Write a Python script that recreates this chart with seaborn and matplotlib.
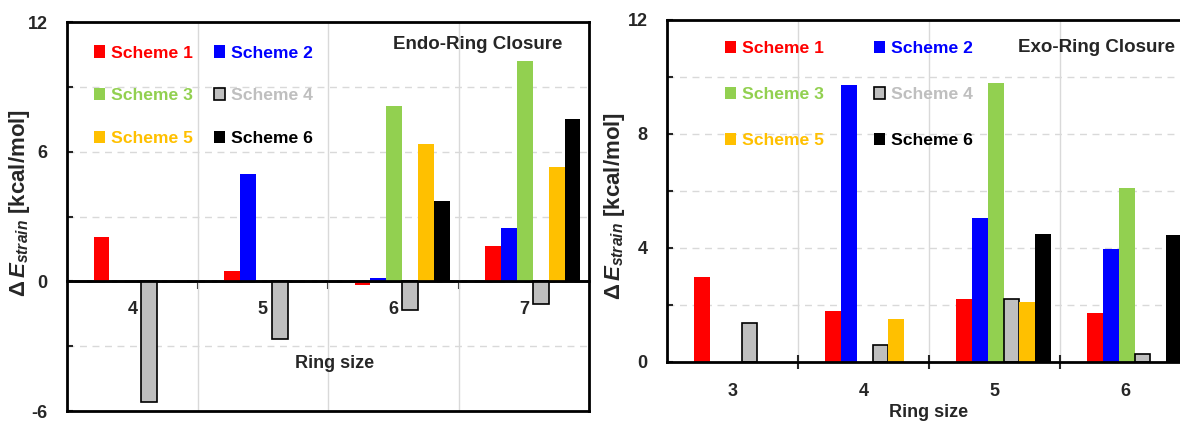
import numpy as np
import pandas as pd
import seaborn as sns
import matplotlib.pyplot as plt
from matplotlib.ticker import MultipleLocator, FixedLocator

schemes = ["Scheme 1", "Scheme 2", "Scheme 3", "Scheme 4", "Scheme 5", "Scheme 6"]
colors = ["#FF0000", "#0000FF", "#92D050", "#BFBFBF", "#FFC000", "#000000"]

# endo-ring closure, ring sizes 4-7 (nan = no bar)
endo_rings = ["4", "5", "6", "7"]
endo_s1 = [2.05, 0.48, -0.15, 1.62]
endo_s2 = [np.nan, 4.98, 0.15, 2.45]
endo_s3 = [np.nan, np.nan, 8.09, 10.2]
endo_s4 = [-5.59, -2.67, -1.34, -1.05]
endo_s5 = [np.nan, np.nan, 6.36, 5.29]
endo_s6 = [np.nan, np.nan, 3.70, 7.53]

# exo-ring closure, ring sizes 3-6
exo_rings = ["3", "4", "5", "6"]
exo_s1 = [2.97, 1.78, 2.20, 1.73]
exo_s2 = [np.nan, 9.72, 5.06, 3.98]
exo_s3 = [np.nan, np.nan, 9.78, 6.10]
exo_s4 = [1.38, 0.60, 2.21, 0.27]
exo_s5 = [np.nan, 1.50, 2.10, np.nan]
exo_s6 = [np.nan, np.nan, 4.50, 4.44]


def to_long(rings, cols):
    d = pd.DataFrame({s: v for s, v in zip(schemes, cols)})
    d["ring"] = rings
    d = d.melt(id_vars="ring", var_name="scheme", value_name="dE")
    return d.dropna()


d_endo = to_long(endo_rings, [endo_s1, endo_s2, endo_s3, endo_s4, endo_s5, endo_s6])
d_exo = to_long(exo_rings, [exo_s1, exo_s2, exo_s3, exo_s4, exo_s5, exo_s6])

W = "bold"
FONT = "Liberation Sans"

sns.set_theme(style="white")
plt.rcParams["font.family"] = [FONT, "DejaVu Sans"]
plt.rcParams["font.weight"] = W
plt.rcParams["axes.unicode_minus"] = False
plt.rcParams["mathtext.fontset"] = "custom"
plt.rcParams["mathtext.it"] = FONT + ":italic:bold"
plt.rcParams["mathtext.rm"] = FONT + ":bold"

fig = plt.figure(figsize=(11.8, 4.21), dpi=100)
ax1 = fig.add_axes([67 / 1180, 1 - 411 / 421, 522 / 1180, 389 / 421])
ax2 = fig.add_axes([667 / 1180, 1 - 362 / 421, 524 / 1180, 342 / 421])

fs = 13
grid_kw = dict(color="#d9d9d9", lw=1)
ylabel = r"$\Delta\,\mathit{E}_{\mathit{strain}}$ [kcal/mol]"


def draw(ax, d, rings):
    sns.barplot(data=d, x="ring", y="dE", hue="scheme", order=rings,
                hue_order=schemes, palette=colors, width=0.73, dodge=True,
                saturation=1, errorbar=None, legend=False, ax=ax)
    for p in ax.patches:
        p.set_x(p.get_x() + 0.069)
    for c, cont in enumerate(ax.containers):
        for p in cont:
            p.set_linewidth(0)
            if c == 3:
                p.set_edgecolor("black")
                p.set_linewidth(1.2)
    ax.set_xlim(-0.5, 3.5)
    ax.set_xlabel("")
    ax.set_ylabel(ylabel, fontsize=16, fontweight=W)
    ax.xaxis.set_minor_locator(FixedLocator([0.5, 1.5, 2.5]))
    ax.grid(which="minor", axis="x", ls="-", **grid_kw)
    ax.grid(which="both", axis="y", ls=(0, (5, 4)), **grid_kw)
    ax.set_axisbelow(True)
    for s in ax.spines.values():
        s.set_color("black")
        s.set_linewidth(2)
    ax.tick_params(axis="y", which="both", direction="in", length=4, width=1.5,
                   left=True, pad=14, labelsize=fs)
    # legend, two columns filled row-wise
    idx = [0, 2, 4, 1, 3, 5]
    handles = [ax.containers[i][0] for i in idx]
    return [handles, [schemes[i] for i in idx], [colors[i] for i in idx]]


def add_legend(ax, items, anchor, colsp, rowsp):
    handles, labels, cols = items
    leg = ax.legend(handles, labels, ncol=2, loc="upper left", bbox_to_anchor=anchor,
                    frameon=False, borderpad=0, borderaxespad=0, handlelength=0.63,
                    handleheight=0.7, handletextpad=0.34, columnspacing=colsp,
                    labelspacing=rowsp, prop=dict(size=12.6, weight=W))
    for t, c in zip(leg.get_texts(), cols):
        t.set_color(c)


# left: endo
items = draw(ax1, d_endo, endo_rings)
ax1.set_ylim(-6, 12)
ax1.yaxis.set_major_locator(MultipleLocator(6))
ax1.yaxis.set_minor_locator(MultipleLocator(3))
ax1.tick_params(axis="x", which="both", bottom=False, labelbottom=False)
ax1.axhline(0, color="black", lw=2, zorder=1.5)
zero = ax1.secondary_xaxis(1 / 3)
zero.spines["bottom"].set_linewidth(2)
zero.set_xticks(range(len(endo_rings)), endo_rings)
zero.xaxis.set_minor_locator(FixedLocator([0.5, 1.5, 2.5]))
zero.tick_params(axis="x", which="major", length=0, pad=14, labelsize=fs)
zero.tick_params(axis="x", which="minor", length=6, width=1.5, direction="out")
ax1.text(0.513, 0.123, "Ring size", transform=ax1.transAxes, ha="center",
         va="center", fontsize=fs, fontweight=W)
ax1.text(0.787, 0.943, "Endo-Ring Closure", transform=ax1.transAxes, ha="center",
         va="center", fontsize=13.5, fontweight=W)
ax1.yaxis.set_label_coords(-0.068, 0.535)
add_legend(ax1, items, (0.052, 0.94), 1.2, 1.57)

# right: exo
items = draw(ax2, d_exo, exo_rings)
ax2.set_ylim(0, 12)
ax2.yaxis.set_major_locator(MultipleLocator(4))
ax2.yaxis.set_minor_locator(MultipleLocator(2))
ax2.tick_params(axis="x", which="major", length=0, pad=15, labelsize=fs)
ax2.tick_params(axis="x", which="minor", length=10, width=1.5, direction="inout",
                bottom=True)
ax2.set_xlabel("Ring size", fontsize=fs, fontweight=W, labelpad=3)
ax2.text(0.819, 0.921, "Exo-Ring Closure", transform=ax2.transAxes, ha="center",
         va="center", fontsize=13.5, fontweight=W)
ax2.yaxis.set_label_coords(-0.076, 0.456)
add_legend(ax2, items, (0.11, 0.94), 2.9, 1.77)

for ax in [ax1, ax2, zero]:
    plt.setp(ax.get_xticklabels() + ax.get_yticklabels(), fontweight=W)

fig.savefig("out.png", dpi=100)
